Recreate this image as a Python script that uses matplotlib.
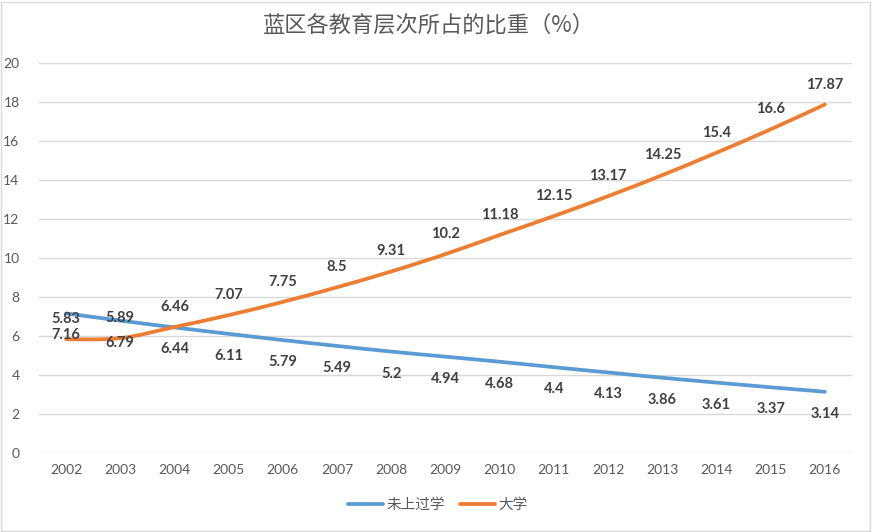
import matplotlib
matplotlib.use("Agg")
import matplotlib.pyplot as plt
from matplotlib.path import Path
from matplotlib.patches import PathPatch, Rectangle
from matplotlib.lines import Line2D
import numpy as np

years = ["2002", "2003", "2004", "2005", "2006", "2007", "2008", "2009",
         "2010", "2011", "2012", "2013", "2014", "2015", "2016"]
no_school = [7.16, 6.79, 6.44, 6.11, 5.79, 5.49, 5.2, 4.94, 4.68, 4.4, 4.13,
             3.86, 3.61, 3.37, 3.14]
university = [5.83, 5.89, 6.46, 7.07, 7.75, 8.5, 9.31, 10.2, 11.18, 12.15,
              13.17, 14.25, 15.4, 16.6, 17.87]
series_names = ["未上过学", "大学"]
title = "蓝区各教育层次所占的比重（%）"

BLUE = "#5B9BD5"
ORANGE = "#ED7D31"
GRID = "#D9D9D9"
TXT = "#595959"
LBL = "#404040"
CJK = ["Noto Sans CJK SC", "DejaVu Sans"]
NUM = ["Lato", "DejaVu Sans"]

fig = plt.figure(figsize=(8.72, 5.32), dpi=100)
ax = fig.add_axes([39/872, 1-453/532, (852-39)/872, (453-63)/532])

x = np.arange(len(years))


def smooth_path(xs, ys):
    xs = np.asarray(xs, float)
    ys = np.asarray(ys, float)
    verts = [(xs[0], ys[0])]
    codes = [Path.MOVETO]
    n = len(xs)
    for i in range(n - 1):
        p0 = np.array([xs[max(i-1, 0)], ys[max(i-1, 0)]])
        p1 = np.array([xs[i], ys[i]])
        p2 = np.array([xs[i+1], ys[i+1]])
        p3 = np.array([xs[min(i+2, n-1)], ys[min(i+2, n-1)]])
        c1 = p1 + (p2 - p0) / 6.0
        c2 = p2 - (p3 - p1) / 6.0
        verts += [tuple(c1), tuple(c2), tuple(p2)]
        codes += [Path.CURVE4] * 3
    return Path(verts, codes)


for vals, col in [(no_school, BLUE), (university, ORANGE)]:
    patch = PathPatch(smooth_path(x, vals), facecolor="none", edgecolor=col,
                      lw=2.7, capstyle="round", joinstyle="round", zorder=3)
    ax.add_patch(patch)

for xi, v in zip(x, no_school):
    ax.annotate(f"{v:g}", (xi, v), xytext=(0, -22), textcoords="offset pixels",
                ha="center", va="center", fontsize=10.5, fontweight="bold",
                color=LBL, family=NUM, zorder=4)
for xi, v in zip(x, university):
    ax.annotate(f"{v:g}", (xi, v), xytext=(0, 20), textcoords="offset pixels",
                ha="center", va="center", fontsize=10.5, fontweight="bold",
                color=LBL, family=NUM, zorder=4)

ax.set_xlim(-0.5, len(years) - 0.5)
ax.set_ylim(0, 20)
ax.set_yticks(np.arange(0, 21, 2))
ax.set_xticks(x)
ax.set_xticklabels(years)
ax.grid(axis="y", color=GRID, lw=1)
ax.set_axisbelow(True)
for s in ax.spines.values():
    s.set_visible(False)
ax.tick_params(length=0, colors=TXT, labelsize=10, pad=8)
ax.tick_params(axis="y", pad=14)
for t in ax.get_xticklabels() + ax.get_yticklabels():
    t.set_family(NUM)

fig.text(429/872, 1-25/532, title, ha="center", va="center", fontsize=16,
         color=TXT, family=CJK)

handles = [Line2D([], [], color=BLUE, lw=2.7, solid_capstyle="round"),
           Line2D([], [], color=ORANGE, lw=2.7, solid_capstyle="round")]
leg = fig.legend(handles, series_names, loc="center", bbox_to_anchor=(438/872, 1-505/532),
                 ncol=2, frameon=False, prop={"family": CJK, "size": 10.5},
                 handlelength=2.4, handletextpad=0.25, columnspacing=1.0)
for t in leg.get_texts():
    t.set_color(TXT)

fig.patches.append(Rectangle((1/872, 1/532), 869/872, 529/532, transform=fig.transFigure,
                             fill=False, edgecolor=GRID, lw=1))

fig.savefig("out.png", dpi=100)
